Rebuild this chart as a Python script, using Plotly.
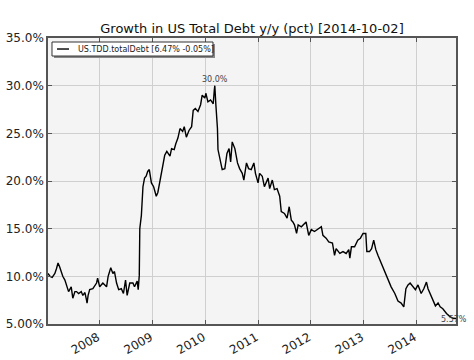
import pandas as pd
import plotly.graph_objects as go

# decimal-year dates and y/y growth (%)
years = [
    2007.02, 2007.06, 2007.10, 2007.15, 2007.18, 2007.21, 2007.24, 2007.30, 2007.34, 2007.37,
    2007.41, 2007.46, 2007.49, 2007.53, 2007.56, 2007.60, 2007.65, 2007.68, 2007.72, 2007.75,
    2007.76, 2007.78, 2007.81, 2007.87, 2007.94, 2007.96, 2008.00, 2008.06, 2008.13, 2008.16,
    2008.21, 2008.25, 2008.28, 2008.32, 2008.36, 2008.41, 2008.45, 2008.49, 2008.52, 2008.57,
    2008.63, 2008.66, 2008.71, 2008.73, 2008.75, 2008.76, 2008.79, 2008.82, 2008.85, 2008.88,
    2008.91, 2008.94, 2008.96, 2008.98, 2009.02, 2009.05, 2009.07, 2009.10, 2009.14, 2009.19,
    2009.23, 2009.27, 2009.33, 2009.36, 2009.41, 2009.44, 2009.48, 2009.52, 2009.57, 2009.60,
    2009.64, 2009.69, 2009.74, 2009.77, 2009.81, 2009.86, 2009.91, 2009.94, 2009.99, 2010.01,
    2010.05, 2010.10, 2010.15, 2010.17, 2010.18, 2010.20, 2010.23, 2010.24, 2010.29, 2010.32,
    2010.37, 2010.41, 2010.45, 2010.48, 2010.51, 2010.56, 2010.61, 2010.65, 2010.70, 2010.73,
    2010.78, 2010.82, 2010.87, 2010.92, 2010.95, 2011.00, 2011.03, 2011.08, 2011.12, 2011.19,
    2011.22, 2011.27, 2011.31, 2011.36, 2011.41, 2011.44, 2011.50, 2011.55, 2011.59, 2011.63,
    2011.66, 2011.69, 2011.73, 2011.76, 2011.82, 2011.88, 2011.91, 2011.96, 2012.01, 2012.07,
    2012.13, 2012.20, 2012.23, 2012.29, 2012.34, 2012.41, 2012.45, 2012.48, 2012.55, 2012.61,
    2012.67, 2012.72, 2012.74, 2012.77, 2012.83, 2012.89, 2012.94, 2012.99, 2013.04, 2013.06,
    2013.11, 2013.15, 2013.19, 2013.23, 2013.27, 2013.34, 2013.40, 2013.46, 2013.52, 2013.59,
    2013.65, 2013.71, 2013.76, 2013.80, 2013.84, 2013.88, 2013.93, 2013.98, 2014.03, 2014.09,
    2014.14, 2014.19, 2014.22, 2014.26, 2014.31, 2014.36, 2014.41, 2014.45, 2014.50, 2014.57,
    2014.63, 2014.69, 2014.75,
]
growth = [
    10.3, 10.0, 9.9, 10.3, 10.8, 11.4, 11.0, 10.0, 9.6, 9.1,
    8.4, 8.9, 7.7, 8.4, 8.4, 8.2, 8.4, 8.0, 8.3, 7.5,
    7.2, 8.0, 8.6, 8.7, 9.3, 9.8, 8.9, 9.3, 8.9, 10.0,
    10.9, 10.3, 10.5, 9.3, 8.6, 8.7, 8.2, 9.6, 8.0, 9.3,
    9.3, 8.9, 9.5, 8.6, 10.1, 15.0, 16.4, 19.4, 20.3, 20.5,
    21.0, 21.2, 20.5, 19.8, 19.4, 18.9, 18.4, 18.8, 20.1, 21.7,
    22.7, 23.1, 22.6, 23.4, 23.3, 23.9, 24.5, 25.5, 25.2, 25.7,
    24.6, 25.3, 25.7, 27.4, 27.6, 27.3, 28.0, 29.0, 28.7, 29.2,
    28.3, 28.5, 28.1, 29.5, 30.0, 28.0, 25.5, 23.3, 22.0, 21.2,
    21.3, 22.9, 23.4, 22.0, 24.1, 23.4, 21.9, 21.3, 20.8, 20.1,
    21.9, 21.3, 21.2, 21.9, 20.8, 19.8, 20.8, 20.5, 19.4, 20.3,
    19.2, 20.1, 19.1, 19.2, 18.4, 16.8, 16.6, 16.1, 17.3, 15.9,
    15.7, 15.4, 14.5, 15.4, 15.2, 15.6, 15.7, 14.3, 14.9, 14.7,
    14.9, 15.2, 14.3, 14.0, 13.6, 13.5, 12.2, 12.9, 12.4, 12.6,
    12.4, 12.8, 11.9, 13.1, 13.1, 13.8, 14.0, 14.5, 14.5, 12.6,
    12.6, 12.9, 13.8, 12.8, 12.2, 11.3, 10.5, 9.7, 8.9, 8.2,
    7.4, 7.2, 6.8, 8.7, 9.1, 9.3, 8.9, 8.6, 9.1, 8.2,
    8.7, 9.4, 8.7, 8.2, 7.5, 6.9, 7.2, 6.8, 6.6, 6.1,
    5.8, 5.6, 5.57,
]

y_tick_vals = [5, 10, 15, 20, 25, 30, 35]
y_tick_text = ["5.00%", "10.0%", "15.0%", "20.0%", "25.0%", "30.0%", "35.0%"]
x_tick_years = [2008, 2009, 2010, 2011, 2012, 2013, 2014]

title_text = "Growth in US Total Debt y/y (pct) [2014-10-02]"
series_name = "US.TDD.totalDebt [6.47% -0.05%]"


def to_date(y):
    base = int(y)
    return pd.Timestamp(year=base, month=1, day=1) + pd.Timedelta(days=(y - base) * 365.25)


dates = [to_date(y) for y in years]
x_ticks = [pd.Timestamp(year=y, month=1, day=1) for y in x_tick_years]

peak_i = growth.index(max(growth))

fig = go.Figure()
fig.add_trace(go.Scatter(
    x=dates, y=growth, mode="lines", name=series_name, showlegend=False,
    line=dict(color="black", width=1.4),
))

fig.add_annotation(x=dates[peak_i], y=growth[peak_i], text=f"{growth[peak_i]:.1f}%",
                   showarrow=False, yanchor="bottom", xanchor="center",
                   font=dict(size=8, color="#444"))
fig.add_annotation(xref="paper", x=1.0, y=growth[-1], text=f"{growth[-1]:.2f}%",
                   showarrow=False, yanchor="middle", xanchor="center", xshift=-2, yshift=-1,
                   font=dict(size=8, color="#444"))

# legend box drawn like the original (box with drop shadow, short line sample)
fig.add_shape(type="rect", xref="paper", yref="paper", x0=0.0147, x1=0.4093, y0=0.930, y1=0.979,
              line=dict(width=0), fillcolor="#888888", layer="above")
fig.add_shape(type="rect", xref="paper", yref="paper", x0=0.0098, x1=0.4044, y0=0.937, y1=0.986,
              line=dict(color="#333", width=1), fillcolor="white", layer="above")
fig.add_shape(type="line", xref="paper", yref="paper", x0=0.0221, x1=0.0515, y0=0.9615, y1=0.9615,
              line=dict(color="black", width=1.4), layer="above")
fig.add_annotation(xref="paper", yref="paper", x=0.0686, y=0.9615, text=series_name,
                   showarrow=False, xanchor="left", yanchor="middle",
                   font=dict(family="DejaVu Sans", size=8, color="#222"))

axis_common = dict(showline=True, linecolor="#555", linewidth=1.5, mirror="allticks",
                   ticks="inside", ticklen=4, tickcolor="#555", automargin=False,
                   showgrid=True, gridcolor="#cfcfcf", gridwidth=1, zeroline=False,
                   tickfont=dict(family="DejaVu Sans", size=12, color="#222"))

fig.update_layout(
    width=474, height=360,
    margin=dict(l=48, r=18, t=38, b=36),
    paper_bgcolor="white", plot_bgcolor="#f4f4f4",
    title=dict(text=title_text, xref="paper", x=0.5, xanchor="center",
               yref="container", y=0.92, yanchor="middle", automargin=False,
               font=dict(family="DejaVu Sans", size=13, color="#111")),
    font=dict(family="DejaVu Sans"),
    showlegend=False,
    xaxis=dict(range=[dates[0], dates[-1]], tickvals=x_ticks,
               ticktext=[str(y) for y in x_tick_years], tickangle=-30,
               ticklabelshift=-2, ticklabelstandoff=0, **axis_common),
    yaxis=dict(range=[5, 35], tickvals=y_tick_vals, ticktext=y_tick_text, **axis_common),
)

fig.write_html("out.html", config={"displayModeBar": False},
               post_script="document.body.style.margin='0px';")
